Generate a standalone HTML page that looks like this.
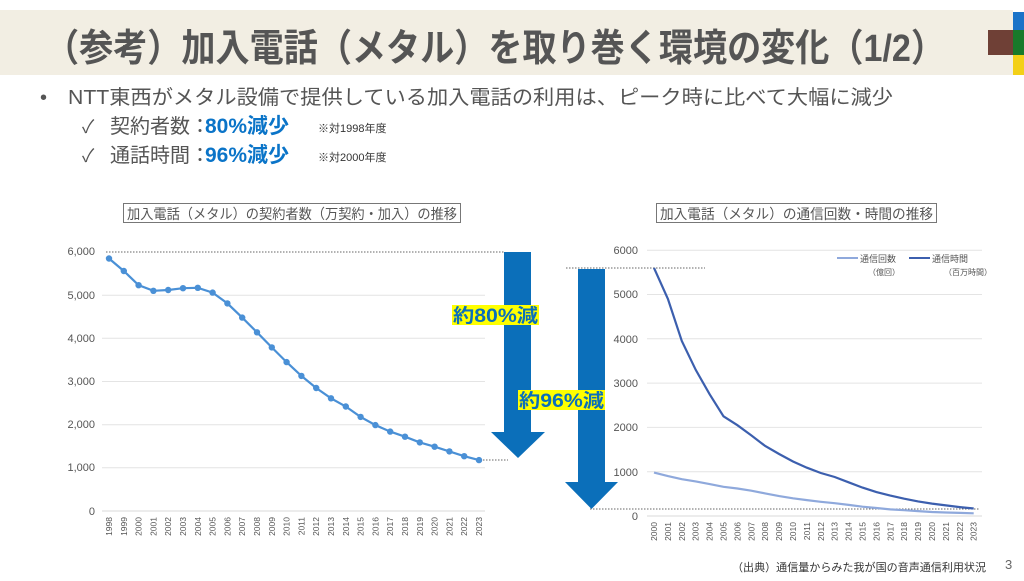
<!DOCTYPE html>
<html><head><meta charset="utf-8"><style>
body{margin:0;width:1024px;height:576px;overflow:hidden;background:#fff;font-family:"Liberation Sans","Noto Sans CJK JP",sans-serif}
</style></head><body>
<svg width="1024" height="576" viewBox="0 0 1024 576" xmlns="http://www.w3.org/2000/svg" font-family="Liberation Sans, Noto Sans CJK JP, sans-serif">
<rect x="0" y="10" width="1013" height="65" fill="#f2eee3"/>
<rect x="988" y="30" width="25" height="25" fill="#6f4036"/>
<rect x="1013" y="12" width="11" height="18" fill="#1a73c8"/>
<rect x="1013" y="30" width="11" height="25" fill="#177a2a"/>
<rect x="1013" y="55" width="11" height="20" fill="#f3d017"/>
<text x="45" y="61" font-size="38" font-weight="bold" fill="#555" textLength="900" lengthAdjust="spacingAndGlyphs">（参考）加入電話（メタル）を取り巻く環境の変化（1/2）</text>
<text x="40" y="104" font-size="20" fill="#555">•</text>
<text x="68" y="104" font-size="20" fill="#555" textLength="825" lengthAdjust="spacingAndGlyphs">NTT東西がメタル設備で提供している加入電話の利用は、ピーク時に比べて大幅に減少</text>
<text x="82" y="133" font-size="18" fill="#555">✓</text>
<text x="110" y="133" font-size="20" fill="#555">契約者数：</text>
<text x="205" y="133" font-size="21" font-weight="bold" fill="#0a74c8">80%減少</text>
<text x="318" y="132" font-size="11" fill="#333">※対1998年度</text>
<text x="82" y="162" font-size="18" fill="#555">✓</text>
<text x="110" y="162" font-size="20" fill="#555">通話時間：</text>
<text x="205" y="162" font-size="21" font-weight="bold" fill="#0a74c8">96%減少</text>
<text x="318" y="161" font-size="11" fill="#333">※対2000年度</text>

<!-- left chart -->
<rect x="123.5" y="203.5" width="337" height="19" fill="none" stroke="#777"/>
<text x="127" y="219" font-size="14" fill="#555" textLength="330" lengthAdjust="spacingAndGlyphs">加入電話（メタル）の契約者数（万契約・加入）の推移</text>
<g stroke="#e4e4e4" stroke-width="1">
<line x1="102" x2="485" y1="467.8" y2="467.8"/><line x1="102" x2="485" y1="424.7" y2="424.7"/><line x1="102" x2="485" y1="381.5" y2="381.5"/><line x1="102" x2="485" y1="338.3" y2="338.3"/><line x1="102" x2="485" y1="295.2" y2="295.2"/>
</g>
<line x1="102" x2="485" y1="511" y2="511" stroke="#d8d8d8"/>
<line x1="106" x2="505" y1="252" y2="252" stroke="#666" stroke-dasharray="1.5,1.5"/>
<line x1="483" x2="508" y1="460" y2="460" stroke="#666" stroke-dasharray="1.5,1.5"/>
<g font-size="11" fill="#555" text-anchor="end">
<text x="95" y="255">6,000</text><text x="95" y="299">5,000</text><text x="95" y="342">4,000</text><text x="95" y="385">3,000</text><text x="95" y="428">2,000</text><text x="95" y="471">1,000</text><text x="95" y="515">0</text>
</g>
<polyline fill="none" stroke="#4a90d6" stroke-width="2.2" points="109,258.5 123.8,271 138.6,285.2 153.4,290.8 168.2,290 183,288.2 197.8,287.8 212.6,292.6 227.4,303.4 242.2,317.6 257,332.3 271.8,347.4 286.6,362.1 301.4,375.9 316.2,388 331,398.3 345.8,406.5 360.6,416.9 375.4,425.1 390.2,431.6 405,436.7 419.8,442.4 434.6,446.7 449.4,451.4 464.2,456.2 479,460.1"/>
<g fill="#4a90d6">
<circle cx="109" cy="258.5" r="3.2"/><circle cx="123.8" cy="271" r="3.2"/><circle cx="138.6" cy="285.2" r="3.2"/><circle cx="153.4" cy="290.8" r="3.2"/><circle cx="168.2" cy="290" r="3.2"/><circle cx="183" cy="288.2" r="3.2"/><circle cx="197.8" cy="287.8" r="3.2"/><circle cx="212.6" cy="292.6" r="3.2"/><circle cx="227.4" cy="303.4" r="3.2"/><circle cx="242.2" cy="317.6" r="3.2"/><circle cx="257" cy="332.3" r="3.2"/><circle cx="271.8" cy="347.4" r="3.2"/><circle cx="286.6" cy="362.1" r="3.2"/><circle cx="301.4" cy="375.9" r="3.2"/><circle cx="316.2" cy="388" r="3.2"/><circle cx="331" cy="398.3" r="3.2"/><circle cx="345.8" cy="406.5" r="3.2"/><circle cx="360.6" cy="416.9" r="3.2"/><circle cx="375.4" cy="425.1" r="3.2"/><circle cx="390.2" cy="431.6" r="3.2"/><circle cx="405" cy="436.7" r="3.2"/><circle cx="419.8" cy="442.4" r="3.2"/><circle cx="434.6" cy="446.7" r="3.2"/><circle cx="449.4" cy="451.4" r="3.2"/><circle cx="464.2" cy="456.2" r="3.2"/><circle cx="479" cy="460.1" r="3.2"/>
</g>
<g font-size="8.5" fill="#555" text-anchor="end">
<text transform="translate(112,517) rotate(-90)">1998</text><text transform="translate(126.8,517) rotate(-90)">1999</text><text transform="translate(141.6,517) rotate(-90)">2000</text><text transform="translate(156.4,517) rotate(-90)">2001</text><text transform="translate(171.2,517) rotate(-90)">2002</text><text transform="translate(186,517) rotate(-90)">2003</text><text transform="translate(200.8,517) rotate(-90)">2004</text><text transform="translate(215.6,517) rotate(-90)">2005</text><text transform="translate(230.4,517) rotate(-90)">2006</text><text transform="translate(245.2,517) rotate(-90)">2007</text><text transform="translate(260,517) rotate(-90)">2008</text><text transform="translate(274.8,517) rotate(-90)">2009</text><text transform="translate(289.6,517) rotate(-90)">2010</text><text transform="translate(304.4,517) rotate(-90)">2011</text><text transform="translate(319.2,517) rotate(-90)">2012</text><text transform="translate(334,517) rotate(-90)">2013</text><text transform="translate(348.8,517) rotate(-90)">2014</text><text transform="translate(363.6,517) rotate(-90)">2015</text><text transform="translate(378.4,517) rotate(-90)">2016</text><text transform="translate(393.2,517) rotate(-90)">2017</text><text transform="translate(408,517) rotate(-90)">2018</text><text transform="translate(422.8,517) rotate(-90)">2019</text><text transform="translate(437.6,517) rotate(-90)">2020</text><text transform="translate(452.4,517) rotate(-90)">2021</text><text transform="translate(467.2,517) rotate(-90)">2022</text><text transform="translate(482,517) rotate(-90)">2023</text>
</g>

<!-- arrows -->
<polygon fill="#0b6fba" points="504,252 531,252 531,432 545,432 518,458 491,432 504,432"/>
<polygon fill="#0b6fba" points="578,269 605,269 605,482 618,482 591.5,509 565,482 578,482"/>
<line x1="566" x2="705" y1="268" y2="268" stroke="#666" stroke-dasharray="1.5,1.5"/>
<line x1="590" x2="980" y1="509" y2="509" stroke="#666" stroke-dasharray="1.5,1.5"/>
<rect x="452" y="305" width="87" height="20" fill="#ffff00"/>
<text x="453" y="322" font-size="19" font-weight="bold" fill="#0b6fba" textLength="85" lengthAdjust="spacingAndGlyphs">約80%減</text>
<rect x="518" y="390" width="87" height="20" fill="#ffff00"/>
<text x="519" y="407" font-size="19" font-weight="bold" fill="#0b6fba" textLength="85" lengthAdjust="spacingAndGlyphs">約96%減</text>

<!-- right chart -->
<rect x="656.5" y="203.5" width="280" height="19" fill="none" stroke="#777"/>
<text x="660" y="219" font-size="14" fill="#555" textLength="273" lengthAdjust="spacingAndGlyphs">加入電話（メタル）の通信回数・時間の推移</text>
<g stroke="#e4e4e4">
<line x1="647" x2="982" y1="250.2" y2="250.2"/><line x1="647" x2="982" y1="294.5" y2="294.5"/><line x1="647" x2="982" y1="338.8" y2="338.8"/><line x1="647" x2="982" y1="383.1" y2="383.1"/><line x1="647" x2="982" y1="427.4" y2="427.4"/><line x1="647" x2="982" y1="471.7" y2="471.7"/>
</g>
<line x1="647" x2="982" y1="516" y2="516" stroke="#d8d8d8"/>
<g font-size="11" fill="#555" text-anchor="end">
<text x="638" y="254">6000</text><text x="638" y="298">5000</text><text x="638" y="343">4000</text><text x="638" y="387">3000</text><text x="638" y="431">2000</text><text x="638" y="476">1000</text><text x="638" y="520">0</text>
</g>
<polyline fill="none" stroke="#8fa9dc" stroke-width="2.2" points="654,472.6 667.9,476.1 681.8,479.2 695.7,481.4 709.6,484.1 723.5,486.8 737.4,488.5 751.3,490.7 765.2,493.4 779.1,496.1 793,498.3 806.9,500.1 820.8,501.8 834.7,503.2 848.6,504.9 862.5,506.7 876.4,508 890.3,509.4 904.2,510.2 918.1,511.1 932,512 945.9,512.5 959.8,512.9 973.7,513.3"/>
<polyline fill="none" stroke="#3c5fae" stroke-width="2.2" points="654,267.9 667.9,298.9 681.8,341 695.7,369.8 709.6,394.2 723.5,416.3 737.4,425.2 751.3,435.4 765.2,446 779.1,454 793,461.5 806.9,467.7 820.8,473 834.7,477 848.6,482.3 862.5,487.6 876.4,492.1 890.3,495.6 904.2,498.7 918.1,501.4 932,503.6 945.9,505.4 959.8,507.1 973.7,508.5"/>
<line x1="837" x2="858" y1="258" y2="258" stroke="#8fa9dc" stroke-width="2"/>
<text x="860" y="262" font-size="9" fill="#555">通信回数</text>
<text x="868" y="275" font-size="8" fill="#555">（億回）</text>
<line x1="909" x2="930" y1="258" y2="258" stroke="#3c5fae" stroke-width="2"/>
<text x="932" y="262" font-size="9" fill="#555">通信時間</text>
<text x="944" y="275" font-size="8" fill="#555">（百万時間）</text>
<g font-size="8.5" fill="#555" text-anchor="end">
<text transform="translate(657,522) rotate(-90)">2000</text><text transform="translate(670.9,522) rotate(-90)">2001</text><text transform="translate(684.8,522) rotate(-90)">2002</text><text transform="translate(698.7,522) rotate(-90)">2003</text><text transform="translate(712.6,522) rotate(-90)">2004</text><text transform="translate(726.5,522) rotate(-90)">2005</text><text transform="translate(740.4,522) rotate(-90)">2006</text><text transform="translate(754.3,522) rotate(-90)">2007</text><text transform="translate(768.2,522) rotate(-90)">2008</text><text transform="translate(782.1,522) rotate(-90)">2009</text><text transform="translate(796,522) rotate(-90)">2010</text><text transform="translate(809.9,522) rotate(-90)">2011</text><text transform="translate(823.8,522) rotate(-90)">2012</text><text transform="translate(837.7,522) rotate(-90)">2013</text><text transform="translate(851.6,522) rotate(-90)">2014</text><text transform="translate(865.5,522) rotate(-90)">2015</text><text transform="translate(879.4,522) rotate(-90)">2016</text><text transform="translate(893.3,522) rotate(-90)">2017</text><text transform="translate(907.2,522) rotate(-90)">2018</text><text transform="translate(921.1,522) rotate(-90)">2019</text><text transform="translate(935,522) rotate(-90)">2020</text><text transform="translate(948.9,522) rotate(-90)">2021</text><text transform="translate(962.8,522) rotate(-90)">2022</text><text transform="translate(976.7,522) rotate(-90)">2023</text>
</g>
<text x="732" y="571" font-size="11" fill="#333" textLength="254" lengthAdjust="spacingAndGlyphs">（出典）通信量からみた我が国の音声通信利用状況</text>
<text x="1005" y="569" font-size="13" fill="#666">3</text>
</svg>
</body></html>
